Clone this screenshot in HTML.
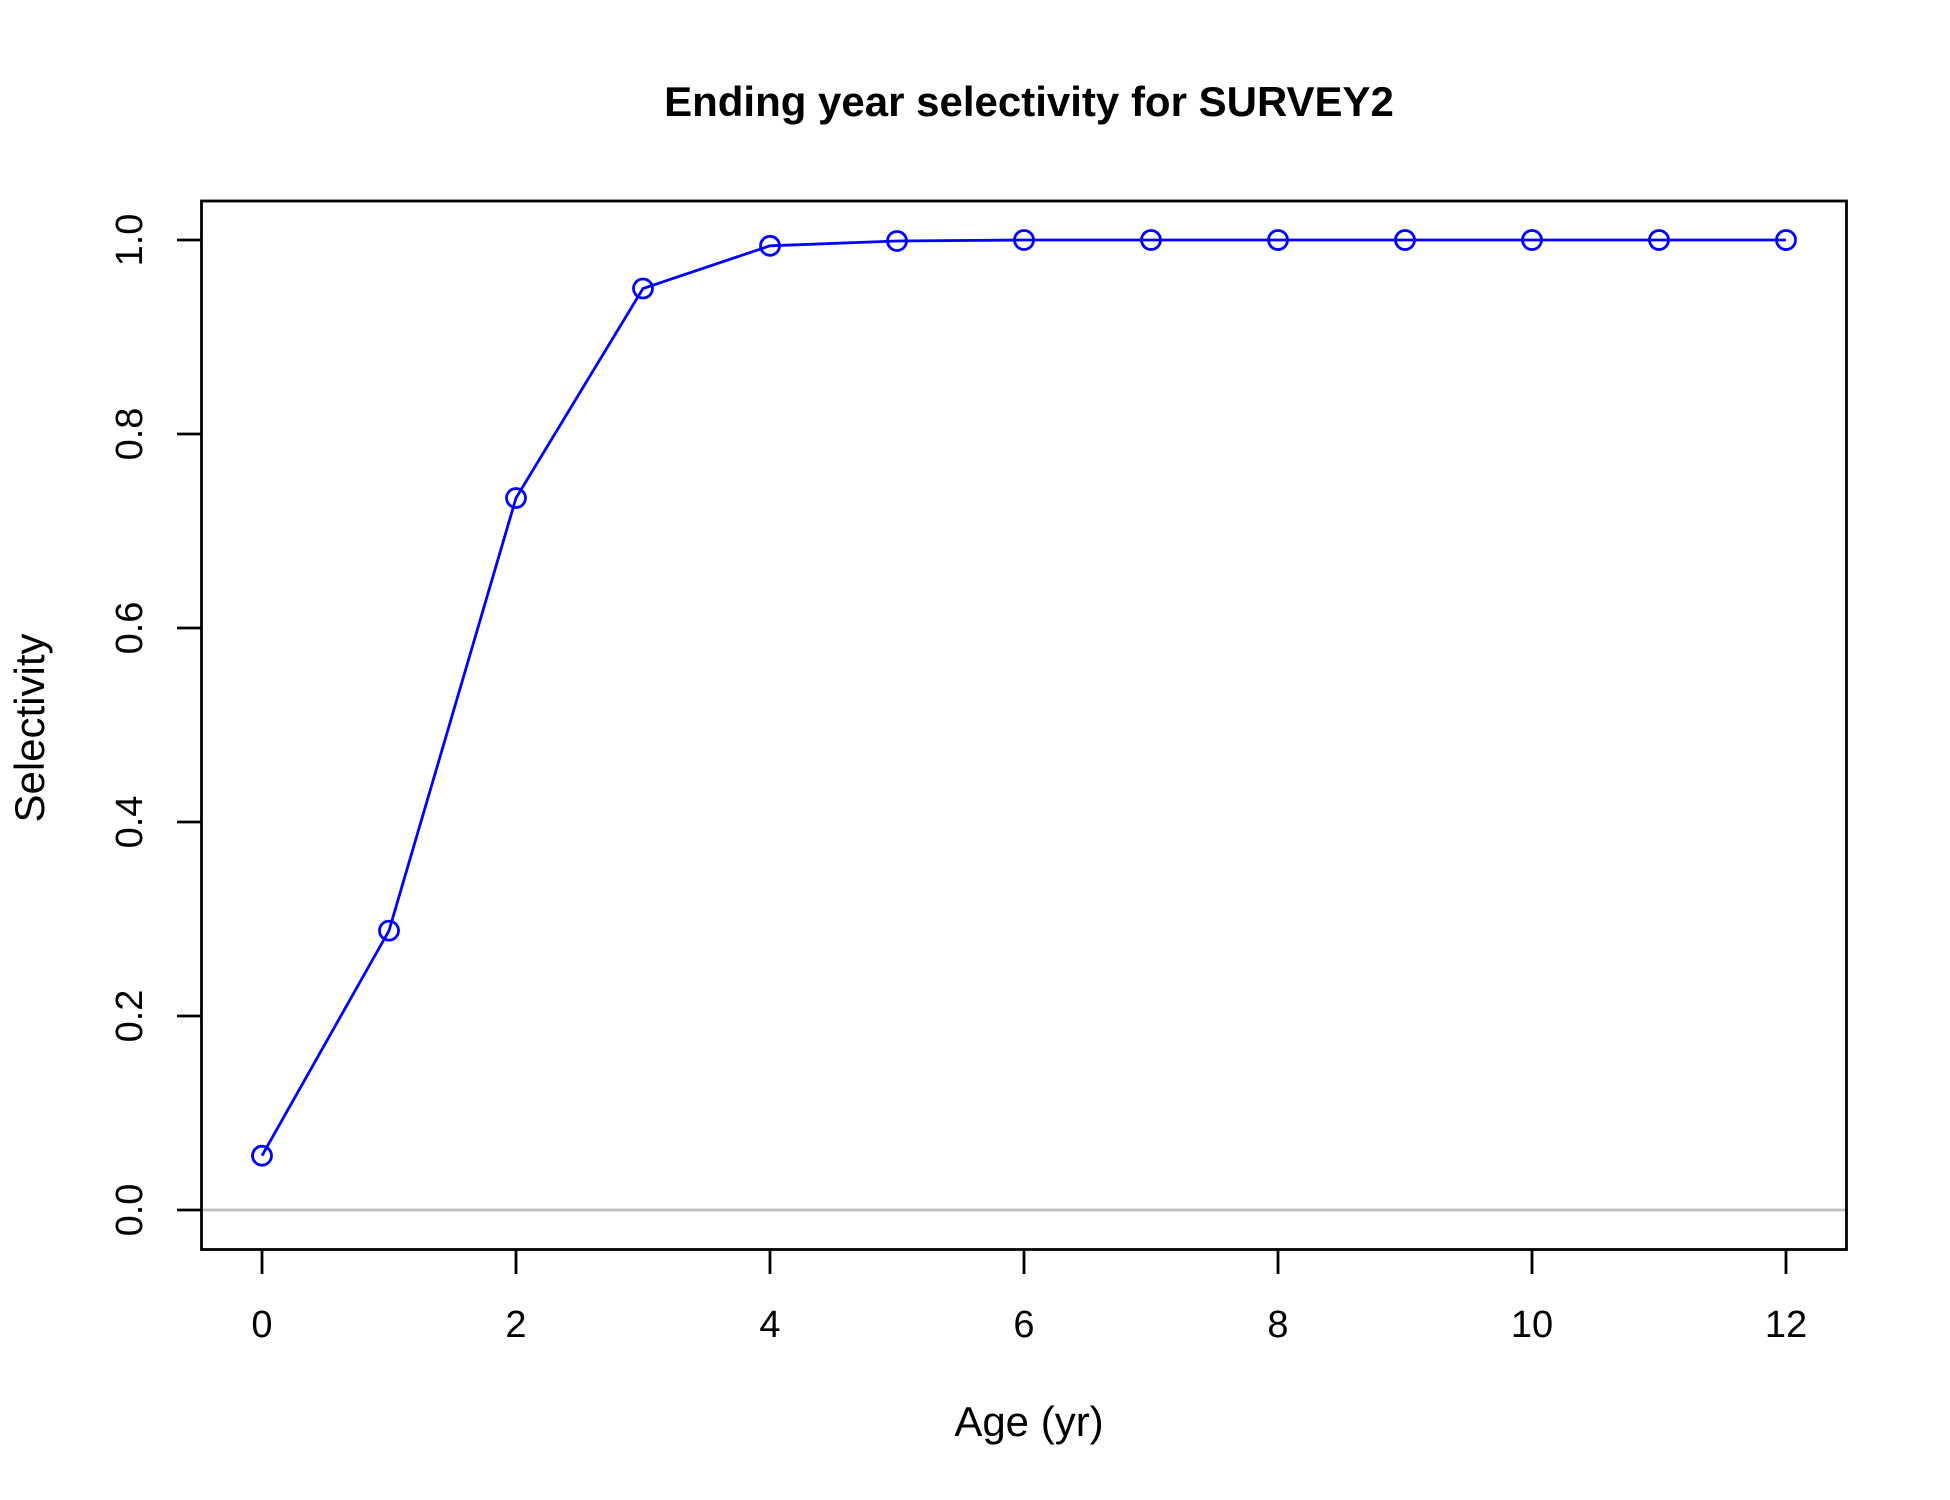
<!DOCTYPE html>
<html><head><meta charset="utf-8"><style>
html,body{margin:0;padding:0;background:#fff}
svg{display:block}
text{font-family:"Liberation Sans",Arial,sans-serif;fill:#000}
</style></head><body>
<svg id="chart" width="1950" height="1500" viewBox="0 0 1950 1500">
<text x="1029" y="116" font-size="42" font-weight="bold" text-anchor="middle">Ending year selectivity for SURVEY2</text>
<g id="xticks"></g>
<g id="yticks"></g>
<text x="1029" y="1436" font-size="42" text-anchor="middle">Age (yr)</text>
<text transform="translate(44,728) rotate(-90)" font-size="42" text-anchor="middle">Selectivity</text>
<g id="marks"></g>
<rect x="201.5" y="201" width="1645" height="1048.5" fill="none" stroke="#000" stroke-width="2.8"/>
</svg>
<script>
const ages=[0,1,2,3,4,5,6,7,8,9,10,11,12];
const selectivity=[0.056,0.288,0.734,0.95,0.994,0.999,1,1,1,1,1,1,1];
const xTickValues=[0,2,4,6,8,10,12];
const yTickValues=[0,0.2,0.4,0.6,0.8,1.0];
const yTickLabels=["0.0","0.2","0.4","0.6","0.8","1.0"];
const NS="http://www.w3.org/2000/svg";
function sx(v){return 262+v*(1786-262)/12;}
function sy(v){return 1210-v*(1210-240);}
function mk(tag,attrs,parent){const e=document.createElementNS(NS,tag);for(const k in attrs)e.setAttribute(k,attrs[k]);parent.appendChild(e);return e;}
const xg=document.getElementById('xticks'),yg=document.getElementById('yticks'),mg=document.getElementById('marks');
const base=mk('line',{x1:201.5,x2:1846.5,y1:sy(0),y2:sy(0),stroke:'#bebebe','stroke-width':2.8},mg);


xTickValues.forEach(v=>{
 const t=mk('line',{x1:sx(v),x2:sx(v),y1:1250,y2:1274,stroke:'#000','stroke-width':2.8},xg);
 
 
 const l=mk('text',{x:sx(v),y:1337,'font-size':38,'text-anchor':'middle'},xg);l.textContent=v;
 
 
});
yTickValues.forEach((v,i)=>{
 const t=mk('line',{x1:177,x2:201.5,y1:sy(v),y2:sy(v),stroke:'#000','stroke-width':2.8},yg);
 
 
 const l=mk('text',{transform:`translate(142,${sy(v)}) rotate(-90)`,'font-size':38,'text-anchor':'middle'},yg);l.textContent=yTickLabels[i];
 
 
});
const pl=mk('polyline',{points:ages.map((a,i)=>sx(a)+','+sy(selectivity[i])).join(' '),fill:'none',stroke:'#0000ff','stroke-width':2.8},mg);


ages.forEach((a,i)=>{
 const c=mk('circle',{cx:sx(a),cy:sy(selectivity[i]),r:9.5,fill:'none',stroke:'#0000ff','stroke-width':2.8},mg);
 
 
});
</script>
</body></html>
